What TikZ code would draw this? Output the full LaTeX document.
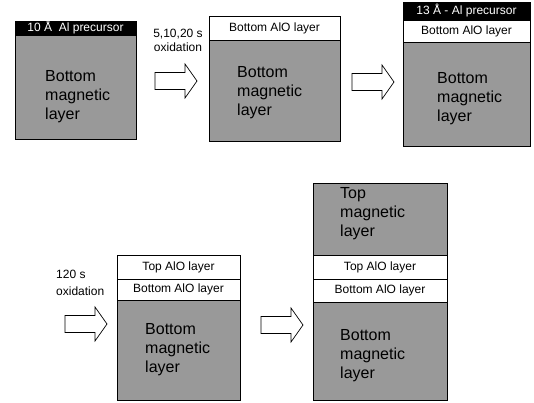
\documentclass[tikz,border=0pt]{standalone}
\usepackage{fontspec}
\setmainfont{Liberation Sans}
\tikzset{
  layer/.style={draw, line width=0.8pt, anchor=north west, inner sep=0pt, outer sep=0pt,
    font=\fontsize{12}{14}\selectfont},
  precursor/.style={layer, fill=black, text=white},
  alo/.style={layer, fill=white},
  magnetic/.style={layer, fill=black!40},
  maglabel/.style={anchor=west, align=left, inner sep=0pt, font=\fontsize{16}{19}\selectfont},
  steplabel/.style={align=center, inner sep=0pt, font=\fontsize{12}{14}\selectfont},
  blockarrow/.pic={
    \draw[line width=0.7pt, fill=white] (0,-8.5) -- (30,-8.5) -- (30,-17) -- (42,0)
      -- (30,17) -- (30,8.5) -- (0,8.5) -- cycle;
  }
}
\begin{document}
\begin{tikzpicture}[x=1pt, y=-1pt]
  \useasboundingbox (0,0) rectangle (534,403);

  % Stack 1: precursor on bottom magnetic layer
  \node[precursor, minimum width=121pt, minimum height=14pt] (pre1) at (15,21) {10 Å\ \ Al precursor};
  \node[magnetic, minimum width=121pt, minimum height=104pt] (mag1) at (pre1.south west) {};
  \node[maglabel] (lab1) at ([xshift=30pt, yshift=-10pt]mag1.west) {Bottom\\magnetic\\layer};

  % Step 1
  \node[steplabel] (ox1) at (178,40) {5,10,20 s\\oxidation};
  \pic (arr1) at (155,81) {blockarrow};

  % Stack 2: bottom AlO layer
  \node[alo, minimum width=131pt, minimum height=24pt] (alo2) at (209,16) {Bottom AlO layer};
  \node[magnetic, minimum width=131pt, minimum height=101pt] (mag2) at (alo2.south west) {};
  \node[maglabel] (lab2) at ([xshift=28pt, yshift=-2pt]mag2.west) {Bottom\\magnetic\\layer};

  \pic (arr2) at (352,82) {blockarrow};

  % Stack 3: second precursor
  \node[precursor, minimum width=127pt, minimum height=18pt] (pre3) at (403,2) {13 Å - Al precursor};
  \node[alo, minimum width=127pt, minimum height=22pt] (alo3) at (pre3.south west) {Bottom AlO layer};
  \node[magnetic, minimum width=127pt, minimum height=104pt] (mag3) at (alo3.south west) {};
  \node[maglabel] (lab3) at ([xshift=34pt, yshift=-5pt]mag3.west) {Bottom\\magnetic\\layer};

  % Step 2
  \node[steplabel, align=left, anchor=west, font=\fontsize{12}{17}\selectfont] (ox4) at (56,283) {120 s\\oxidation};
  \pic (arr4) at (65,324) {blockarrow};

  % Stack 4: top and bottom AlO layers
  \node[alo, minimum width=123pt, minimum height=24pt] (topalo4) at (117,255) {Top AlO layer};
  \node[alo, minimum width=123pt, minimum height=21pt] (botalo4) at (topalo4.south west) {Bottom AlO layer};
  \node[magnetic, minimum width=123pt, minimum height=100pt] (mag4) at (botalo4.south west) {};
  \node[maglabel] (lab4) at ([xshift=28pt]mag4.west) {Bottom\\magnetic\\layer};

  \pic (arr5) at (261,325) {blockarrow};

  % Stack 5: full junction
  \node[magnetic, minimum width=134pt, minimum height=72pt] (topmag5) at (313,183) {};
  \node[maglabel] (lab5t) at ([xshift=27pt, yshift=5pt]topmag5.west) {Top\\magnetic\\layer};
  \node[alo, minimum width=134pt, minimum height=24pt] (topalo5) at (topmag5.south west) {Top AlO layer};
  \node[alo, minimum width=134pt, minimum height=23pt] (botalo5) at (topalo5.south west) {Bottom AlO layer};
  \node[magnetic, minimum width=134pt, minimum height=98pt] (mag5) at (botalo5.south west) {};
  \node[maglabel] (lab5b) at ([xshift=27pt, yshift=-5pt]mag5.west) {Bottom\\magnetic\\layer};
\end{tikzpicture}
\end{document}
